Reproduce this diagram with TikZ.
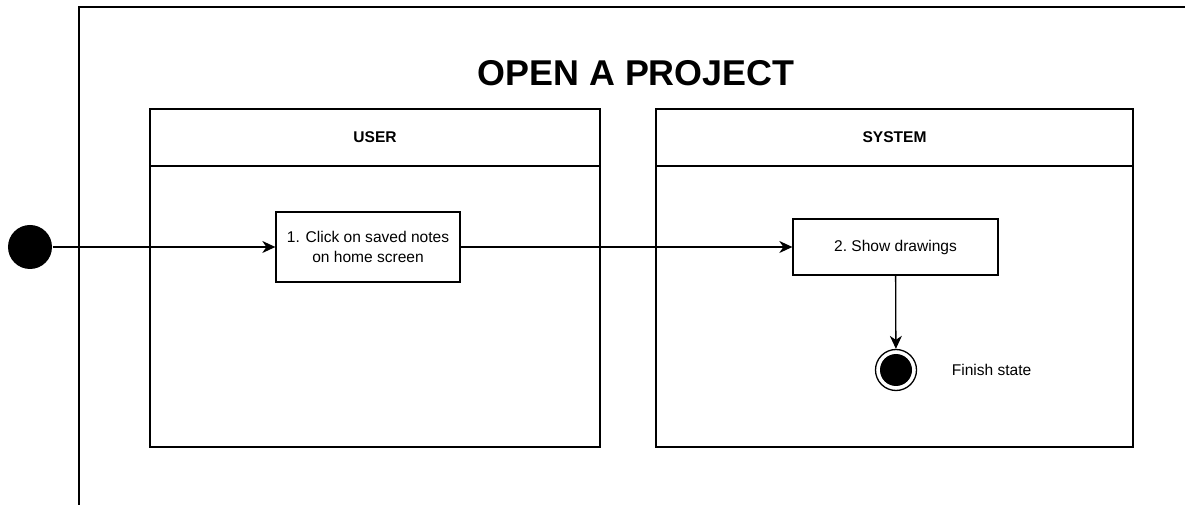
\documentclass[tikz,border=0pt]{standalone}
\usepackage{fontspec}
\setmainfont{Liberation Sans}
\usetikzlibrary{shapes,arrows.meta,positioning}

\begin{document}
\begin{tikzpicture}[
    x=1bp, y=-1bp,
    line width=1.3bp,
    title/.style={font=\fontsize{36}{40}\selectfont\bfseries},
    lanehead/.style={rectangle, draw, outer sep=0, minimum height=57bp, font=\fontsize{15.6}{18}\selectfont\bfseries},
    lanebody/.style={rectangle, draw, outer sep=0, minimum height=281bp},
    activity/.style={rectangle, draw, align=center, font=\fontsize{15.6}{20}\selectfont},
    initial/.style={circle, fill=black, minimum size=44bp, inner sep=0},
    final/.style={circle, draw, minimum size=41bp, inner sep=0, path picture={\fill (path picture bounding box.center) circle (16bp);}},
    note/.style={inner sep=0, font=\fontsize{15.6}{18}\selectfont},
    arrow/.style={-{Stealth[length=13bp, width=12bp, inset=4bp]}}
]
\useasboundingbox (0,0) rectangle (1185,505);

% Frame
\draw (1185,7) -- (79,7) -- (79,505);
\node[title] (heading) at (636,73) {OPEN A PROJECT};

% Swimlanes
\node[lanehead, minimum width=450bp] (userhead) at (375,137.5) {USER};
\node[lanebody, minimum width=450bp, below=0bp of userhead] (userbody) {};
\node[lanehead, minimum width=477bp] (systemhead) at (894.5,137.5) {SYSTEM};
\node[lanebody, minimum width=477bp, below=0bp of systemhead] (systembody) {};

% States
\node[initial] (start) at (30,247) {};
\node[activity, minimum width=184bp, minimum height=70bp] (click) at (368,247) {1. Click on saved notes\\on home screen};
\node[activity, minimum width=205bp, minimum height=56bp] (show) at (895.5,247) {2.\ Show drawings};
\node[final] (finish) at (896,370) {};
\node[note, right=34bp of finish] (finishlabel) {Finish state};

% Flow
\draw[arrow] (start) -- (click);
\draw[arrow] (click) -- (show);
\draw[arrow] (show) -- (finish);

\end{tikzpicture}
\end{document}
